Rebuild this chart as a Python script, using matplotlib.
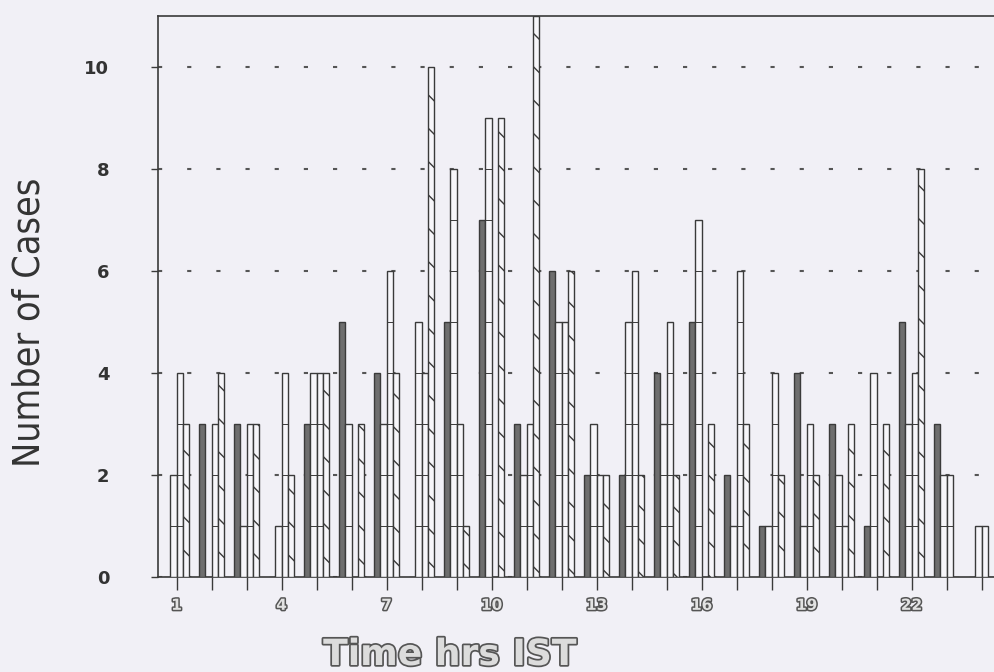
import matplotlib
matplotlib.use('Agg')
import matplotlib.pyplot as plt
import matplotlib.patheffects as pe
import numpy as np

# cases per hour (IST), four series per hour
hours = np.arange(1, 25)
dark_cases = [0, 3, 3, 0, 3, 5, 4, 0, 5, 7, 3, 6, 2, 2, 4, 5, 2, 1, 4, 3, 1, 5, 3, 0]
white1_cases = [2, 0, 1, 1, 4, 3, 3, 5, 8, 9, 2, 5, 3, 5, 3, 7, 1, 1, 1, 2, 4, 3, 2, 1]
white2_cases = [4, 3, 3, 4, 4, 0, 6, 4, 3, 0, 3, 5, 2, 6, 5, 0, 6, 4, 3, 1, 0, 4, 2, 1]
diag_cases = [3, 4, 3, 2, 4, 3, 4, 10, 1, 9, 11, 6, 2, 2, 2, 3, 3, 2, 2, 3, 3, 8, 0, 0]

y_ticks = [0, 2, 4, 6, 8, 10]
x_labels = [str(h) if h % 3 == 1 else '' for h in hours]

bg = '#f1f0f6'
ink = '#3a3a3a'
plt.rcParams['hatch.linewidth'] = 1.0
plt.rcParams['hatch.color'] = ink

fig = plt.figure(figsize=(9.95, 6.72), dpi=100, facecolor=bg)
ax = fig.add_axes([158 / 995, 95 / 672, (1010 - 158) / 995, 561 / 672])
ax.set_facecolor(bg)

width = 0.18
offsets = np.array([-1.5, -0.5, 0.5, 1.5]) * width

ax.bar(hours + offsets[0], dark_cases, width, color='#6e6e6e', edgecolor=ink, linewidth=1.0, zorder=3)
for off, vals in [(offsets[1], white1_cases), (offsets[2], white2_cases)]:
    ax.bar(hours + off, vals, width, color='#f7f6fa', edgecolor=ink, linewidth=1.0, zorder=3)
    # thin horizontal lines at every whole case inside the white bars
    for x, v in zip(hours + off, vals):
        levels = np.arange(1, v)
        if len(levels):
            ax.hlines(levels, x - width / 2, x + width / 2, color=ink, linewidth=0.7, zorder=4)
ax.bar(hours + offsets[3], diag_cases, width, color='#f7f6fa', edgecolor=ink, linewidth=1.0,
       hatch='\\', zorder=3)

ax.set_xlim(0.471, 24.81)
ax.set_ylim(0, 11)

ax.set_yticks(y_ticks)
ax.set_yticklabels([str(t) for t in y_ticks], fontsize=13, fontweight='bold', color='#333333')
ax.set_xticks(hours)
ax.set_xticklabels(x_labels, fontsize=11, fontweight='bold', color='#e2e2e2')
for lab in ax.get_xticklabels():
    lab.set_path_effects([pe.withStroke(linewidth=2.2, foreground='#555555')])

ax.tick_params(axis='y', direction='out', length=5, width=1, pad=30, colors=ink, labelcolor='#333333')
ax.tick_params(axis='x', direction='out', length=9, width=1, pad=6, colors=ink, labelcolor='#e2e2e2')

ax.yaxis.grid(True, linestyle=(0, (2, 12)), color='#555555', linewidth=1.5)
ax.set_axisbelow(True)

for side in ['left', 'top', 'bottom', 'right']:
    ax.spines[side].set_color(ink)
    ax.spines[side].set_linewidth(1.2)

fig.text(30 / 995, 1 - 322 / 672, 'Number of Cases', rotation=90, ha='center', va='center',
         fontsize=27, color='#333333', family='DejaVu Sans', fontstretch='condensed')
xl = fig.text(450 / 995, 1 - 655 / 672, 'Time hrs IST', ha='center', va='center',
              fontsize=26, fontweight='bold', color='#dcdcdc')
xl.set_path_effects([pe.withStroke(linewidth=2.5, foreground='#555555')])

plt.savefig('out.png', dpi=100, facecolor=bg)
